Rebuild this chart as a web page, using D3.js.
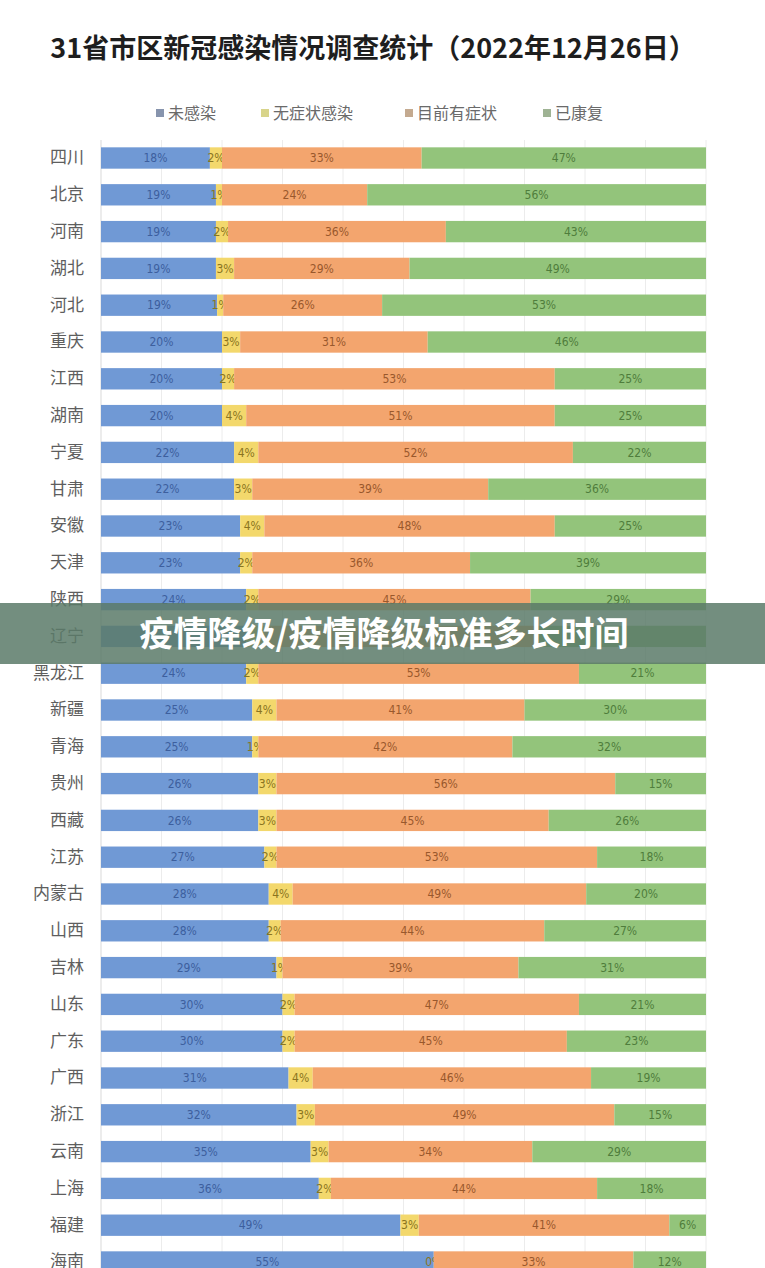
<!DOCTYPE html>
<html>
<head>
<meta charset="utf-8">
<script src="https://cdn.jsdelivr.net/npm/d3@7"></script>
<style>
  body { margin: 0; background: #fff; }
  text { font-family: "Noto Sans CJK SC", "Noto Sans", sans-serif; }
</style>
</head>
<body>
<script>
var w = 765;
var h = 1268;

// data
var provinces = ["四川","北京","河南","湖北","河北","重庆","江西","湖南","宁夏","甘肃",
                 "安徽","天津","陕西","辽宁","黑龙江","新疆","青海","贵州","西藏","江苏",
                 "内蒙古","山西","吉林","山东","广东","广西","浙江","云南","上海","福建","海南"];
var notInfected = [18,19,19,19,19,20,20,20,22,22,23,23,24,24,24,25,25,26,26,27,28,28,29,30,30,31,32,35,36,49,55];
var asymptomatic = [2,1,2,3,1,3,2,4,4,3,4,2,2,3,2,4,1,3,3,2,4,2,1,2,2,4,3,3,2,3,0];
var symptomatic = [33,24,36,29,26,31,53,51,52,39,48,36,45,45,53,41,42,56,45,53,49,44,39,47,45,46,49,34,44,41,33];
var recovered = [47,56,43,49,53,46,25,25,22,36,25,39,29,28,21,30,32,15,26,18,20,27,31,21,23,19,15,29,18,6,12];
var seriesNames = ["未感染","无症状感染","目前有症状","已康复"];
var gridTicks = [0,0.1,0.2,0.3,0.4,0.5,0.6,0.7,0.8,0.9,1];
var hiddenRow = "辽宁"; // covered by the banner in the picture

var keys = ["a","b","c","d"];
var fills = ["#7099d5","#f3d86c","#f3a56e","#93c47b"];
var labelColors = ["#3d5f9e","#8a7420","#99582c","#4f7d3c"];
var legendColors = ["#8794ad","#d8d48a","#c4aa90","#9fb394"];

var rows = provinces.map(function(p, i) {
  return {name: p, a: notInfected[i], b: asymptomatic[i], c: symptomatic[i], d: recovered[i]};
});

var svg = d3.select("body").append("svg")
          .attr("width", w)
          .attr("height", h);

// title
svg.append("text")
   .attr("x", 373)
   .attr("y", 58)
   .attr("text-anchor", "middle")
   .attr("font-size", 27)
   .attr("font-weight", "bold")
   .attr("fill", "#1e1e1e")
   .text("31省市区新冠感染情况调查统计（2022年12月26日）");

// legend
var legendX = [156, 261, 405, 543];
var legend = svg.append("g").selectAll("g")
                .data(seriesNames)
                .join("g")
                .attr("transform", function(d, i) { return "translate(" + legendX[i] + ",113)"; });
legend.append("rect")
      .attr("x", 0).attr("y", -4)
      .attr("width", 8).attr("height", 8)
      .attr("fill", function(d, i) { return legendColors[i]; });
legend.append("text")
      .attr("x", 12)
      .attr("dy", "0.35em")
      .attr("font-size", 16)
      .attr("fill", "#6a6a6a")
      .text(function(d) { return d; });

var x = d3.scaleLinear().domain([0, 1]).range([101, 706]);
var y = d3.scaleBand()
          .domain(provinces)
          .range([139.6, 139.6 + 31 * 36.8])
          .paddingInner(0.42)
          .paddingOuter(0.21);

// grid
svg.append("g").selectAll("line")
   .data(gridTicks.slice(1))
   .join("line")
   .attr("x1", function(d) { return x(d); })
   .attr("x2", function(d) { return x(d); })
   .attr("y1", 140).attr("y2", h)
   .attr("stroke", "#ececec")
   .attr("stroke-width", 1);

// category axis
var yAxis = svg.append("g")
               .attr("transform", "translate(101,0)")
               .call(d3.axisLeft(y).tickSize(0).tickPadding(17));
yAxis.select(".domain").attr("stroke", "#d9d9d9").attr("d", "M0,140V" + h);
yAxis.selectAll("text")
     .attr("font-size", 17)
     .attr("fill", "#5e5e5e")
     .style("font-family", "'Noto Sans CJK SC', sans-serif");

// stacked 100% bars
var stacked = d3.stack().keys(keys).offset(d3.stackOffsetExpand)(rows);

var layers = svg.append("g").selectAll("g")
                .data(stacked)
                .join("g");

layers.each(function(s, k) {
  var g = d3.select(this);
  g.selectAll("rect")
   .data(s)
   .join("rect")
   .attr("x", function(d) { return x(d[0]); })
   .attr("y", function(d) { return y(d.data.name); })
   .attr("width", function(d) { return x(d[1]) - x(d[0]); })
   .attr("height", y.bandwidth())
   .attr("fill", fills[k]);

  g.selectAll("text")
   .data(s.filter(function(d) { return d.data.name !== hiddenRow; }))
   .join("text")
   .attr("x", function(d) { return (x(d[0]) + x(d[1])) / 2; })
   .attr("y", function(d) { return y(d.data.name) + y.bandwidth() / 2; })
   .attr("dy", "0.35em")
   .attr("text-anchor", "middle")
   .attr("font-size", 12)
   .attr("fill", labelColors[k])
   .style("font-family", "'Liberation Sans Narrow', 'DejaVu Sans Condensed', sans-serif")
   .text(function(d) { return d.data[s.key] + "%"; });
});

// overlay banner
svg.append("rect")
   .attr("x", 0).attr("y", 603)
   .attr("width", w).attr("height", 61)
   .attr("fill", "#5b7a68")
   .attr("opacity", 0.85);
svg.append("text")
   .attr("x", 384)
   .attr("y", 634)
   .attr("dy", "0.35em")
   .attr("text-anchor", "middle")
   .attr("font-size", 34)
   .attr("font-weight", "bold")
   .attr("fill", "#ffffff")
   .text("疫情降级/疫情降级标准多长时间");
</script>
</body>
</html>
